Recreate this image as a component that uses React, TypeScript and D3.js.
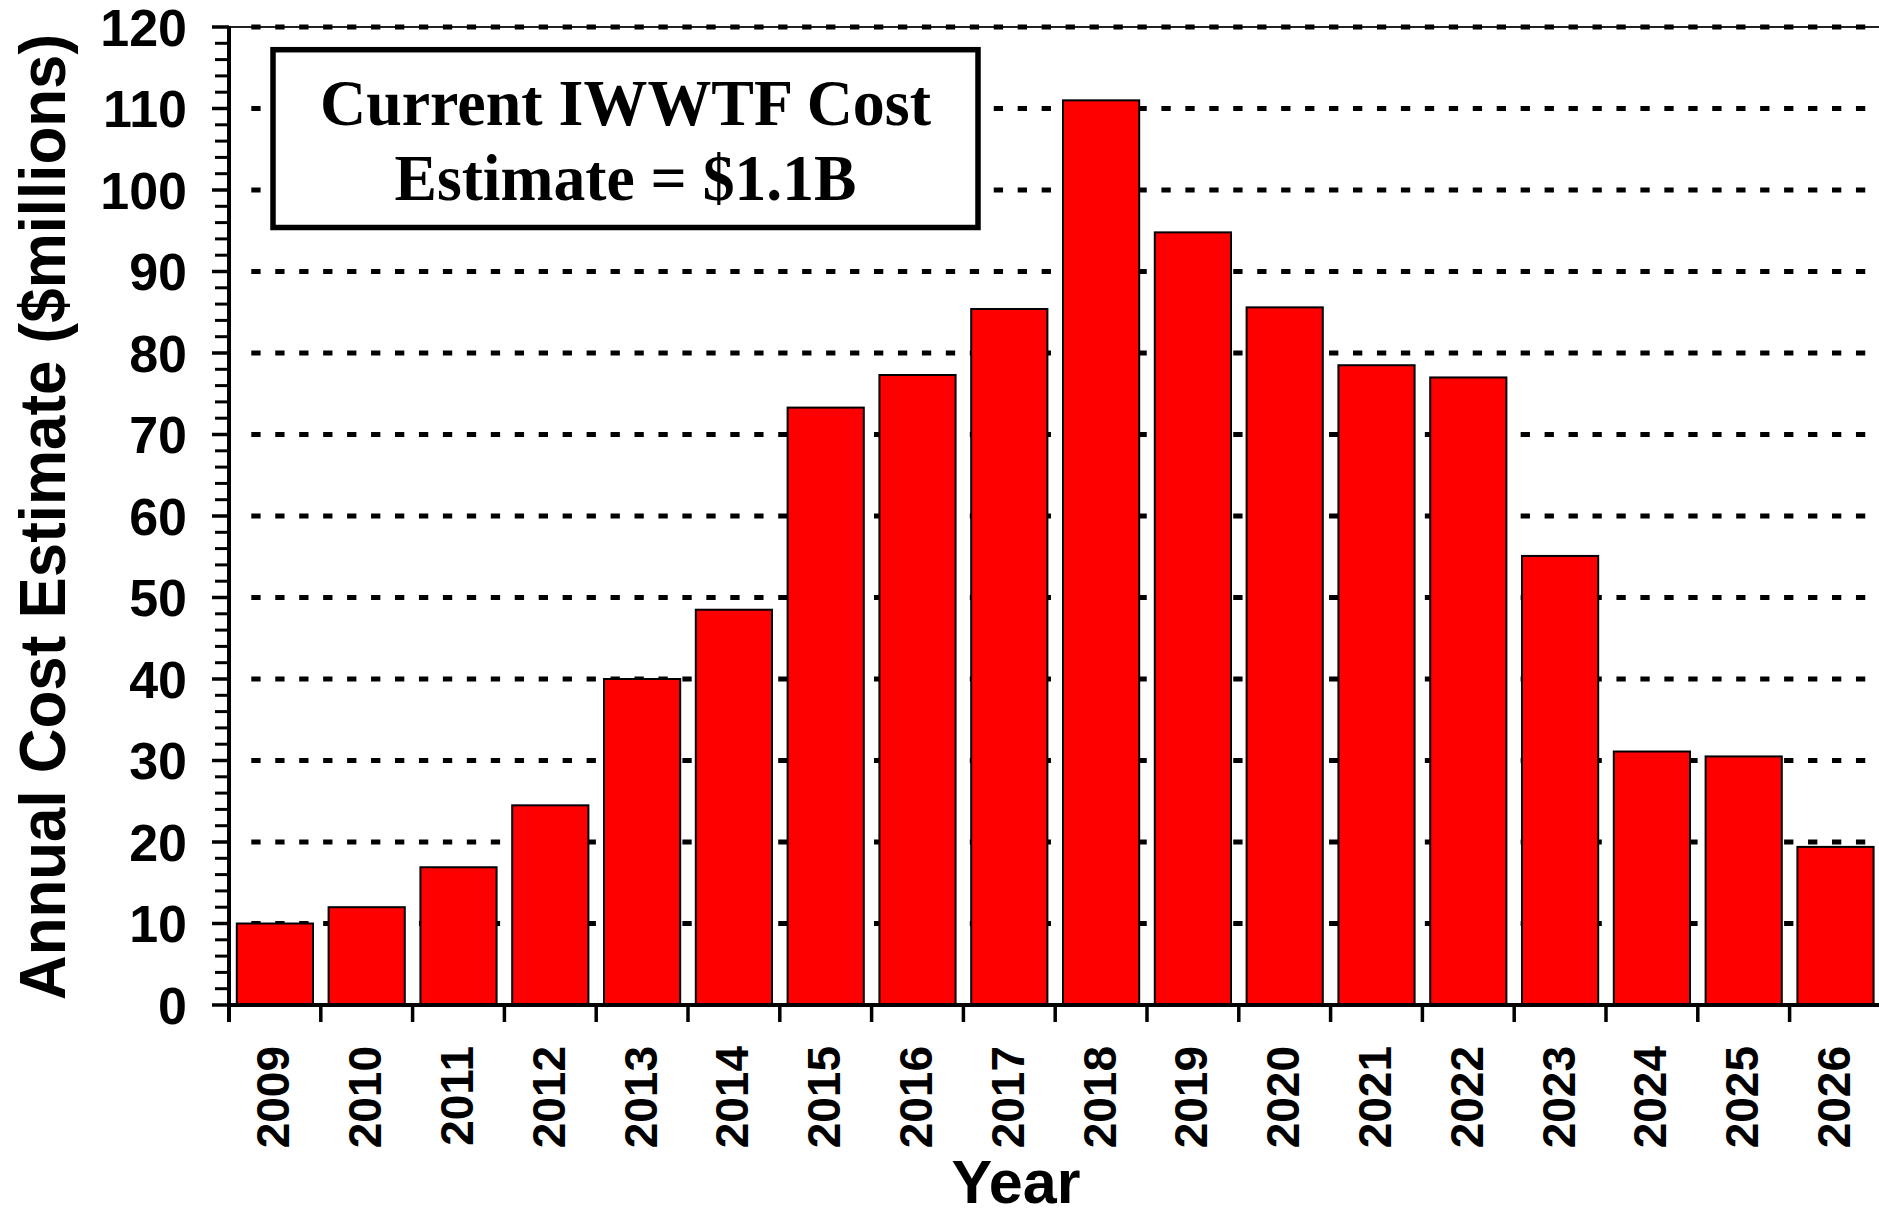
import React from "react";
import * as d3 from "d3";

const years: string[] = ["2009","2010","2011","2012","2013","2014","2015","2016","2017","2018","2019","2020","2021","2022","2023","2024","2025","2026"];
const costs: number[] = [10.0, 12.0, 16.9, 24.5, 40.0, 48.5, 73.3, 77.3, 85.4, 111.0, 94.8, 85.6, 78.5, 77.0, 55.1, 31.1, 30.5, 19.4];
const yTicks: number[] = [0, 10, 20, 30, 40, 50, 60, 70, 80, 90, 100, 110, 120];
const gridValues: number[] = [10, 20, 30, 40, 50, 60, 70, 80, 90, 100, 110, 120];
const boxLines: string[] = ["Current IWWTF Cost", "Estimate = $1.1B"];
const boxLineWidths: number[] = [611, 462];
const yTitle = "Annual Cost Estimate ($millions)";
const xTitle = "Year";

const W = 1879;
const H = 1217;
const X0 = 229;
const STEP = 91.8;
const Y0 = 1005;
const YTOP = 27;

export default function App() {
  const x = d3
    .scaleBand<string>()
    .domain(years)
    .range([X0, X0 + STEP * years.length])
    .paddingInner(0.17)
    .paddingOuter(0.085);
  const y = d3.scaleLinear().domain([0, 120]).range([Y0, YTOP]);
  const minor = d3.range(0, 121, 2).filter((v) => v % 10 !== 0);
  const boundaries = d3.range(0, years.length + 1).map((i) => X0 + i * x.step());
  const sans = "'Liberation Sans', Arial, Helvetica, sans-serif";
  const serif = "'Liberation Serif', 'Times New Roman', serif";

  return (
    <svg
      width={W}
      height={H}
      viewBox={`0 0 ${W} ${H}`}
      style={{ position: "absolute", left: 0, top: 0, display: "block", background: "#fff" }}
    >
      <rect x={0} y={0} width={W} height={H} fill="#fff" />
      {/* top border */}
      <line x1={X0} x2={W + 5} y1={y(120)} y2={y(120)} stroke="#222" strokeWidth={2} />
      {/* dashed gridlines */}
      {gridValues.map((v) => (
        <line
          key={"g" + v}
          x1={251.3}
          x2={W + 5}
          y1={y(v)}
          y2={y(v)}
          stroke="#000"
          strokeWidth={5}
          strokeDasharray="9.3 14.65"
        />
      ))}
      {/* bars */}
      {years.map((yr, i) => (
        <rect
          key={yr}
          x={x(yr)}
          y={y(costs[i])}
          width={x.bandwidth()}
          height={Y0 - y(costs[i])}
          fill="#ff0000"
          stroke="#000"
          strokeWidth={2}
        />
      ))}
      {/* y axis */}
      <line x1={X0} x2={X0} y1={YTOP - 1} y2={Y0 + 17} stroke="#000" strokeWidth={4} />
      {yTicks.map((v) => (
        <line key={"yt" + v} x1={X0 - 17} x2={X0} y1={y(v)} y2={y(v)} stroke="#000" strokeWidth={3.5} />
      ))}
      {minor.map((v) => (
        <line key={"ym" + v} x1={X0 - 14} x2={X0} y1={y(v)} y2={y(v)} stroke="#000" strokeWidth={3} />
      ))}
      {yTicks.map((v) => (
        <text
          key={"yl" + v}
          x={187}
          y={y(v)}
          dy="0.36em"
          textAnchor="end"
          fontFamily={sans}
          fontWeight="bold"
          fontSize={52}
        >
          {v}
        </text>
      ))}
      {/* x axis */}
      <line x1={X0 - 2} x2={W + 5} y1={Y0} y2={Y0} stroke="#000" strokeWidth={4} />
      {boundaries.map((bx, i) => (
        <line key={"xt" + i} x1={bx} x2={bx} y1={Y0} y2={Y0 + 17} stroke="#000" strokeWidth={3.5} />
      ))}
      {years.map((yr) => (
        <text
          key={"xl" + yr}
          transform={`translate(${(x(yr) as number) + x.bandwidth() / 2 - 2},1046) rotate(-90)`}
          dy="0.36em"
          textAnchor="end"
          fontFamily={sans}
          fontWeight="bold"
          fontSize={46}
        >
          {yr}
        </text>
      ))}
      {/* axis titles */}
      <text
        transform={`translate(65,${(Y0 + YTOP) / 2 + 1}) rotate(-90)`}
        textAnchor="middle"
        fontFamily={sans}
        fontWeight="bold"
        fontSize={64}
        textLength={966}
        lengthAdjust="spacingAndGlyphs"
      >
        {yTitle}
      </text>
      <text x={1016} y={1203} textAnchor="middle" fontFamily={sans} fontWeight="bold" fontSize={61}>
        {xTitle}
      </text>
      {/* annotation box */}
      <rect x={273} y={49.7} width={705} height={177.8} fill="#fff" stroke="#000" strokeWidth={5.5} />
      {boxLines.map((t, i) => (
        <text
          key={"b" + i}
          x={625.5}
          y={125 + i * 75}
          textAnchor="middle"
          fontFamily={serif}
          fontWeight="bold"
          fontSize={66}
          textLength={boxLineWidths[i]}
          lengthAdjust="spacingAndGlyphs"
        >
          {t}
        </text>
      ))}
    </svg>
  );
}
